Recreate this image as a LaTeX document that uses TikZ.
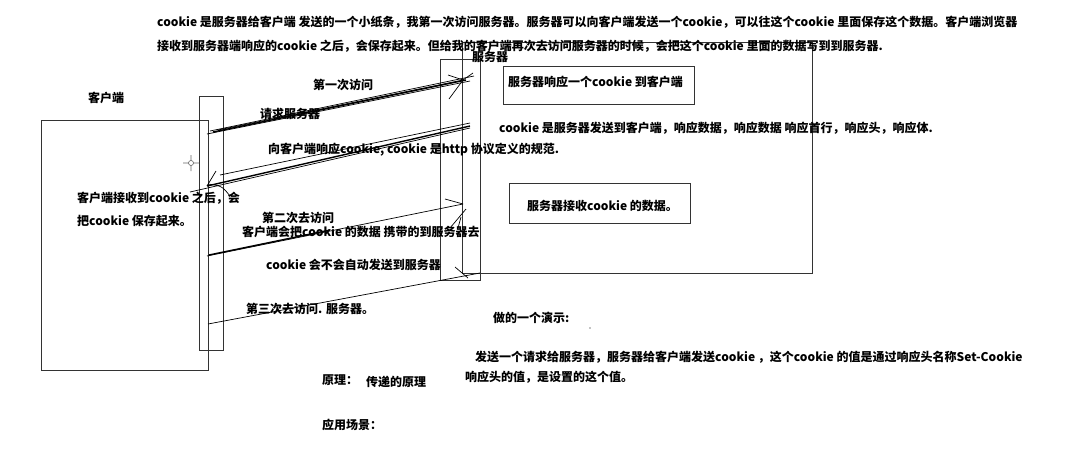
\documentclass[tikz,border=0pt]{standalone}
\usepackage{fontspec}
\setmainfont{Noto Sans CJK SC}
\begin{document}
\begin{tikzpicture}[x=1pt,y=-1pt,
  txt/.style={anchor=west,inner sep=0pt,font=\bfseries\fontsize{12}{14}\selectfont},
  boxr/.style={draw=black!80,line width=0.9pt,inner sep=0pt},
  ln/.style={line width=0.7pt},
  thk/.style={line width=1.4pt}]
\useasboundingbox[fill=white] (0,0) rectangle (1089,467);
% boxes
\node[boxr,minimum width=167pt,minimum height=250pt] (client) at (124.5,245) {};
\node[boxr,minimum width=24pt,minimum height=254pt] (cline) at (211,223) {};
\node[boxr,minimum width=40pt,minimum height=221pt] (sline) at (460,169.5) {};
\node[boxr,minimum width=350pt,minimum height=231pt] (server) at (637,157.5) {};
\node[boxr,minimum width=191pt,minimum height=38pt] (resp) at (598.5,85) {};
\node[boxr,minimum width=181pt,minimum height=40pt] (recv) at (599.5,203) {};
% texts
\node[txt] (t1) at (157,22) {cookie 是服务器给客户端 发送的一个小纸条，我第一次访问服务器。服务器可以向客户端发送一个cookie，可以往这个cookie 里面保存这个数据。客户端浏览器};
\node[txt] (t2) at (157,46) {接收到服务器端响应的cookie 之后，会保存起来。但给我的客户端再次去访问服务器的时候，会把这个cookie 里面的数据写到到服务器.};
\node[txt] (lserver) at (472,57) {服务器};
\node[txt] (lclient) at (88,98) {客户端};
\node[txt] (first) at (313,85) {第一次访问};
\node[txt] (req) at (260,114) {请求服务器};
\node[txt] (tocl) at (268,150) {向客户端响应cookie, cookie 是http 协议定义的规范.};
\node[txt] at (508,82) {服务器响应一个cookie 到客户端};
\node[txt] (def) at (499,128) {cookie 是服务器发送到客户端，响应数据，响应数据 响应首行，响应头，响应体.};
\node[txt] at (527,206) {服务器接收cookie 的数据。};
\node[txt] (cr1) at (77,198) {客户端接收到cookie 之后，会};
\node[txt] (cr2) at (77,221) {把cookie 保存起来。};
\node[txt] (second) at (262,218) {第二次去访问};
\node[txt] (carry) at (242,232) {客户端会把cookie 的数据 携带的到服务器去};
\node[txt] (auto) at (266,265) {cookie 会不会自动发送到服务器};
\node[txt] (third) at (246,309) {第三次去访问. 服务器。};
\node[txt] (demo) at (493,318) {做的一个演示:};
\node[txt] (d1) at (475,357) {发送一个请求给服务器，服务器给客户端发送cookie ，这个cookie 的值是通过响应头名称Set-Cookie};
\node[txt] (d2) at (465,377) {响应头的值，是设置的这个值。};
\node[txt] (yl) at (322,380) {原理：};
\node[txt] (yl2) at (366,382) {传递的原理};
\node[txt] (yy) at (322,425) {应用场景：};
\fill (590,328) circle (0.6);
% cursor
\draw[black!60,line width=0.6pt] (191,163) circle (2.5) (183,163) -- (188.5,163) (193.5,163) -- (199,163) (191,155) -- (191,160.5) (191,165.5) -- (191,171);
% request 1
\coordinate (a1s) at (207,134);
\coordinate (a1e) at (463,80);
\draw[thk] (213,132) -- (466,80);
\draw[ln] (a1s) -- (470,81);
\draw[ln] (210,131) -- (474,76);
\draw[ln] (218,130) -- (a1e);
\draw[ln] (448,75) -- (a1e);
\draw[ln] (449,99) -- (a1e) -- (473,73);
% response
\coordinate (a2s) at (470,126);
\coordinate (a2e) at (207,186);
\draw[thk] (a2s) -- (a2e);
\draw[ln] (470,128) -- (190,192);
\draw[ln] (220,175) -- (470,123);
\draw[ln] (216,171) -- (a2e);
\draw[ln] (208,184) .. controls (222,186) .. (230,196);
% request 2
\coordinate (a3s) at (207,256);
\coordinate (a3e) at (463,204);
\draw[ln] (a3s) -- (a3e);
\draw[thk] (209,255) -- (330,230);
\draw[ln] (445,199) -- (a3e);
\draw[ln] (466,209) -- (450,228);
\draw[ln] (461,217) -- (458,228);
% request 3
\coordinate (a4s) at (208,324);
\coordinate (a4e) at (480,273);
\draw[ln] (a4s) -- (a4e);
\draw[ln] (455,267) -- (468,278);
\end{tikzpicture}
\end{document}
